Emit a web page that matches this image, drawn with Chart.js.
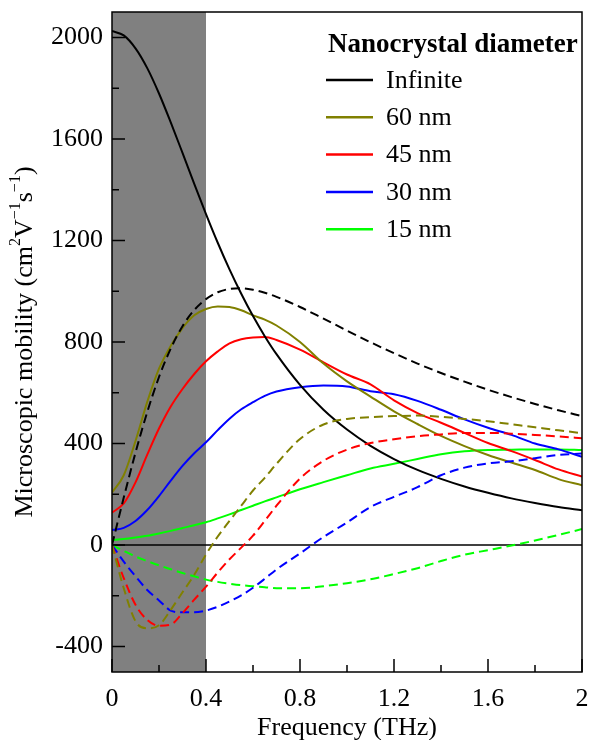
<!DOCTYPE html>
<html lang="en">
<head>
    <meta charset="UTF-8">
    <title>Microscopic mobility vs frequency</title>
    <script src="https://cdn.jsdelivr.net/npm/chart.js"></script>
    <style>
        body { margin: 0; background: #fff; }
        #wrap { width: 592px; height: 740px; position: relative; }
    </style>
</head>
<body>
    <div id="wrap"><canvas id="mobilityChart"></canvas></div>

    <script>
        // frequency grid (THz)
        const freq = [0, 0.05, 0.1, 0.15, 0.2, 0.25, 0.3, 0.35, 0.4, 0.45, 0.5, 0.55, 0.6, 0.65, 0.7,
                      0.8, 0.9, 1.0, 1.1, 1.2, 1.3, 1.4, 1.5, 1.6, 1.7, 1.8, 1.9, 2.0];

        // real part (solid lines)
        const reInfinite = [2025, 2008, 1957, 1879, 1779, 1665, 1545, 1423, 1304, 1191, 1086, 990, 902, 823, 752,
                            631, 533, 455, 391, 339, 296, 261, 231, 206, 184, 166, 150, 137];
        const re60 = [207, 275, 410, 564, 695, 785, 855, 905, 930, 940, 938, 925, 905, 888, 865,
                      800, 715, 645, 585, 527, 477, 430, 390, 355, 325, 296, 260, 236];
        const re45 = [128, 164, 247, 356, 459, 546, 615, 674, 724, 763, 795, 811, 818, 820, 808,
                      770, 720, 672, 633, 570, 520, 482, 442, 402, 370, 335, 298, 270];
        const re30 = [59, 68, 95, 138, 193, 254, 312, 362, 405, 453, 498, 535, 563, 588, 605,
                      622, 629, 625, 606, 594, 568, 533, 495, 462, 434, 400, 377, 348];
        const re15 = [20, 24, 30, 37, 46, 56, 67, 78, 90, 105, 121, 138, 155, 172, 188,
                      220, 248, 275, 302, 320, 339, 358, 370, 375, 376, 377, 377, 375];

        // imaginary part (dashed lines)
        const imInfinite = [0, 187, 364, 524, 662, 774, 862, 926, 969, 996, 1009, 1012, 1006, 994, 978,
                            938, 892, 845, 799, 756, 715, 678, 644, 612, 583, 556, 531, 508];
        const im60 = [0, -170, -300, -328, -316, -255, -186, -117, -37, 34, 95, 155, 215, 265, 320,
                      418, 475, 497, 504, 508, 510, 505, 497, 488, 476, 464, 452, 441];
        const im45 = [0, -130, -235, -295, -318, -313, -268, -215, -164, -108, -56, -10, 37, 95, 155,
                      262, 332, 376, 402, 417, 429, 436, 442, 442, 439, 434, 428, 421];
        const im30 = [0, -65, -123, -177, -218, -258, -265, -265, -258, -243, -222, -198, -168, -133, -96,
                      -33, 32, 89, 150, 190, 228, 275, 305, 322, 330, 342, 355, 361];
        const im15 = [0, -23, -45, -63, -80, -95, -110, -123, -136, -145, -152, -158, -162, -166, -170,
                      -170, -162, -150, -135, -114, -91, -63, -38, -20, -2, 18, 40, 63];

        const seriesLabels = ['Infinite', '60 nm', '45 nm', '30 nm', '15 nm'];
        const seriesColors = ['#000000', '#808000', '#ff0000', '#0000ff', '#00ff00'];
        const realSeries = [reInfinite, re60, re45, re30, re15];
        const imagSeries = [imInfinite, im60, im45, im30, im15];

        const xTicks = [0, 0.4, 0.8, 1.2, 1.6, 2];
        const yTicks = [-400, 0, 400, 800, 1200, 1600, 2000];
        const shadeRange = [0, 0.4];

        const serif = '"Liberation Serif", "Times New Roman", serif';

        function toPoints(arr) {
            return freq.map((f, i) => ({ x: f, y: arr[i] }));
        }

        const datasets = [];
        // dashed first so solids sit on top
        imagSeries.forEach((arr, i) => {
            datasets.push({
                label: seriesLabels[i] + ' (imag)',
                data: toPoints(arr),
                borderColor: seriesColors[i],
                borderWidth: 2,
                borderDash: [9, 5],
                pointRadius: 0,
                cubicInterpolationMode: 'monotone',
                fill: false
            });
        });
        realSeries.forEach((arr, i) => {
            datasets.push({
                label: seriesLabels[i],
                data: toPoints(arr),
                borderColor: seriesColors[i],
                borderWidth: 2,
                pointRadius: 0,
                cubicInterpolationMode: 'monotone',
                fill: false
            });
        });

        // gray band, zero line, frame, ticks, titles and legend
        const decorPlugin = {
            id: 'decor',
            beforeDatasetsDraw(chart) {
                const { ctx, chartArea, scales } = chart;
                const x0 = scales.x.getPixelForValue(shadeRange[0]);
                const x1 = scales.x.getPixelForValue(shadeRange[1]);
                ctx.save();
                ctx.fillStyle = '#808080';
                ctx.fillRect(x0, chartArea.top, x1 - x0, chartArea.bottom - chartArea.top);
                const y0 = scales.y.getPixelForValue(0);
                ctx.strokeStyle = '#000';
                ctx.lineWidth = 1.5;
                ctx.beginPath();
                ctx.moveTo(chartArea.left, y0);
                ctx.lineTo(chartArea.right, y0);
                ctx.stroke();
                ctx.restore();
            },
            afterDatasetsDraw(chart) {
                const { ctx, chartArea, scales } = chart;
                const { left, right, top, bottom } = chartArea;
                ctx.save();
                ctx.strokeStyle = '#000';
                ctx.lineWidth = 1.5;
                ctx.strokeRect(left, top, right - left, bottom - top);

                // inward ticks, major + minor
                ctx.beginPath();
                xTicks.forEach((v, i) => {
                    const px = scales.x.getPixelForValue(v);
                    ctx.moveTo(px, bottom);
                    ctx.lineTo(px, bottom - 13);
                    if (i < xTicks.length - 1) {
                        const mx = scales.x.getPixelForValue((v + xTicks[i + 1]) / 2);
                        ctx.moveTo(mx, bottom);
                        ctx.lineTo(mx, bottom - 7);
                    }
                });
                yTicks.forEach((v, i) => {
                    const py = scales.y.getPixelForValue(v);
                    ctx.moveTo(left, py);
                    ctx.lineTo(left + 13, py);
                    const mv = i < yTicks.length - 1 ? (v + yTicks[i + 1]) / 2 : v + 200;
                    const my = scales.y.getPixelForValue(mv);
                    if (my > top) {
                        ctx.moveTo(left, my);
                        ctx.lineTo(left + 7, my);
                    }
                });
                ctx.stroke();

                // legend (solid lines only)
                ctx.fillStyle = '#000';
                ctx.textBaseline = 'middle';
                ctx.textAlign = 'left';
                ctx.font = 'bold 27px ' + serif;
                ctx.fillText('Nanocrystal diameter', 328, 45);
                ctx.font = '26px ' + serif;
                seriesLabels.forEach((lab, i) => {
                    const y = 80 + i * 37.3;
                    ctx.strokeStyle = seriesColors[i];
                    ctx.lineWidth = 2.5;
                    ctx.beginPath();
                    ctx.moveTo(326, y);
                    ctx.lineTo(373, y);
                    ctx.stroke();
                    ctx.fillText(lab, 386, y + 1);
                });
                ctx.restore();
            },
            afterDraw(chart) {
                const { ctx, chartArea } = chart;
                ctx.save();
                ctx.fillStyle = '#000';
                ctx.textBaseline = 'middle';
                ctx.textAlign = 'center';
                ctx.font = '26px ' + serif;
                ctx.fillText('Frequency (THz)', (chartArea.left + chartArea.right) / 2, 728);

                // y title with superscripts
                const parts = [
                    ['Microscopic mobility (cm', false],
                    ['2', true],
                    ['V', false],
                    ['\u22121', true],
                    ['s', false],
                    ['\u22121', true],
                    [')', false]
                ];
                const bigFont = '26px ' + serif;
                const supFont = '16px ' + serif;
                let total = 0;
                parts.forEach(p => {
                    ctx.font = p[1] ? supFont : bigFont;
                    total += ctx.measureText(p[0]).width;
                });
                ctx.translate(25, (chartArea.top + chartArea.bottom) / 2);
                ctx.rotate(-Math.PI / 2);
                ctx.textAlign = 'left';
                let cx = -total / 2;
                parts.forEach(p => {
                    ctx.font = p[1] ? supFont : bigFont;
                    ctx.fillText(p[0], cx, p[1] ? -9 : 0);
                    cx += ctx.measureText(p[0]).width;
                });
                ctx.restore();
            }
        };

        function noOverhang(axis) {
            axis.paddingLeft = 0;
            axis.paddingRight = 0;
            axis.paddingTop = 0;
            axis.paddingBottom = 0;
        }

        const config = {
            type: 'line',
            data: { datasets: datasets },
            options: {
                responsive: true,
                maintainAspectRatio: false,
                animation: false,
                layout: { padding: { top: 12, right: 10, left: 0, bottom: 0 } },
                plugins: {
                    legend: { display: false },
                    tooltip: { enabled: false }
                },
                scales: {
                    x: {
                        type: 'linear',
                        min: 0,
                        max: 2,
                        afterBuildTicks: axis => { axis.ticks = xTicks.map(v => ({ value: v })); },
                        afterFit: axis => { axis.height = 68; noOverhang(axis); },
                        grid: { display: false, drawTicks: false },
                        border: { display: false },
                        ticks: {
                            color: '#000',
                            padding: 12,
                            maxRotation: 0,
                            font: { family: serif, size: 26 },
                            callback: v => String(Number(v.toFixed(1)))
                        }
                    },
                    y: {
                        min: -500,
                        max: 2100,
                        afterBuildTicks: axis => { axis.ticks = yTicks.map(v => ({ value: v })); },
                        afterFit: axis => { axis.width = 112; noOverhang(axis); },
                        grid: { display: false, drawTicks: false },
                        border: { display: false },
                        ticks: {
                            color: '#000',
                            padding: 9,
                            font: { family: serif, size: 26 },
                            callback: v => String(v)
                        }
                    }
                }
            },
            plugins: [decorPlugin]
        };

        new Chart(document.getElementById('mobilityChart').getContext('2d'), config);
    </script>
</body>
</html>
